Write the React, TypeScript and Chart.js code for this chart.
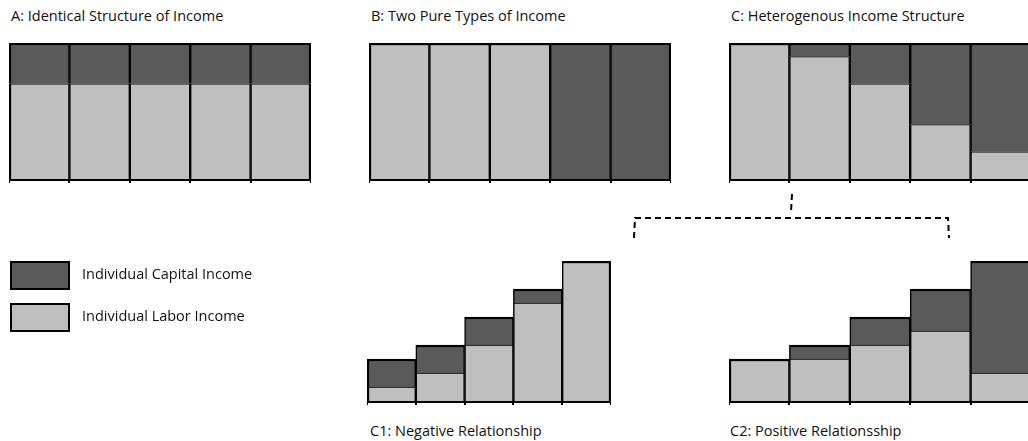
import { useEffect, useRef } from "react"
import { Chart, registerables } from "chart.js"

Chart.register(...registerables)

const people = ["1", "2", "3", "4", "5"]

const laborA = [7, 7, 7, 7, 7]
const capitalA = [3, 3, 3, 3, 3]
const laborB = [10, 10, 10, 0, 0]
const capitalB = [0, 0, 0, 10, 10]
const laborC = [10, 9, 7, 4, 2]
const capitalC = [0, 1, 3, 6, 8]
const laborC1 = [1, 2, 4, 7, 10]
const capitalC1 = [2, 2, 2, 1, 0]
const laborC2 = [3, 3, 4, 5, 2]
const capitalC2 = [0, 1, 2, 3, 8]

const DARK = "#5a5a5a"
const LIGHT = "#bfbfbf"
const FONT = "'Open Sans', sans-serif"

interface PanelProps {
  labor: number[]
  capital: number[]
  left: number
  top: number
  width: number
  height: number
}

function Panel({ labor, capital, left, top, width, height }: PanelProps) {
  const canvasRef = useRef<HTMLCanvasElement>(null)
  const chartRef = useRef<Chart | null>(null)

  useEffect(() => {
    if (!canvasRef.current) return
    if (chartRef.current) chartRef.current.destroy()
    const last = labor.length - 1

    chartRef.current = new Chart(canvasRef.current, {
      type: "bar",
      data: {
        labels: people,
        datasets: [
          {
            label: "Individual Labor Income",
            data: labor,
            backgroundColor: LIGHT,
            borderColor: "#000",
            borderSkipped: false,
            borderWidth: (ctx: any) => ({
              left: ctx.dataIndex === 0 ? 2.5 : 1.5,
              right: ctx.dataIndex === last ? 2.5 : 1.5,
              top: capital[ctx.dataIndex] === 0 ? 2.5 : 1,
              bottom: 0,
            }),
          },
          {
            label: "Individual Capital Income",
            data: capital,
            backgroundColor: DARK,
            borderColor: "#000",
            borderSkipped: false,
            borderWidth: (ctx: any) => ({
              left: ctx.dataIndex === 0 ? 2.5 : 1.5,
              right: ctx.dataIndex === last ? 2.5 : 1.5,
              top: 2.5,
              bottom: 0,
            }),
          },
        ] as any,
      },
      options: {
        animation: false,
        responsive: false,
        maintainAspectRatio: false,
        layout: { padding: { left: 0, right: 0, top: 1, bottom: 0 } },
        datasets: { bar: { barPercentage: 1, categoryPercentage: 1 } },
        plugins: { legend: { display: false }, tooltip: { enabled: false } },
        scales: {
          x: {
            stacked: true,
            ticks: { display: false },
            grid: { offset: true, drawOnChartArea: false, tickLength: 4, color: "#000", lineWidth: 2 },
            border: { color: "#000", width: 3 },
          },
          y: {
            stacked: true,
            display: false,
            min: 0,
            max: 10,
          },
        },
      },
    })

    return () => {
      if (chartRef.current) chartRef.current.destroy()
    }
  }, [labor, capital])

  return (
    <canvas
      ref={canvasRef}
      width={width}
      height={height}
      style={{ position: "absolute", left, top, width, height }}
    />
  )
}

const label = (text: string, left: number, top: number) => (
  <div style={{ position: "absolute", left, top, fontFamily: FONT, fontSize: 14.5, color: "#111", whiteSpace: "nowrap" }}>
    {text}
  </div>
)

export default function App() {
  useEffect(() => {
    document.body.style.margin = "0"
    document.body.style.overflow = "hidden"
  }, [])

  return (
    <div style={{ position: "relative", width: 1028, height: 441, overflow: "hidden", background: "#fff" }}>
      {label("A: Identical Structure of Income", 11, 6)}
      {label("B: Two Pure Types of Income", 371, 6)}
      {label("C: Heterogenous Income Structure", 731, 6)}
      {label("C1: Negative Relationship", 370, 421)}
      {label("C2: Positive Relationsship", 730, 421)}

      <Panel labor={laborA} capital={capitalA} left={9} top={42} width={302} height={141} />
      <Panel labor={laborB} capital={capitalB} left={369} top={42} width={302} height={141} />
      <Panel labor={laborC} capital={capitalC} left={729} top={42} width={302} height={141} />
      <Panel labor={laborC1} capital={capitalC1} left={367} top={260} width={244} height={145} />
      <Panel labor={laborC2} capital={capitalC2} left={729} top={260} width={302} height={145} />

      <svg width={1028} height={441} style={{ position: "absolute", left: 0, top: 0, pointerEvents: "none" }}>
        <path
          d="M792 194 L791 212 M634 238 L635 218 L792 218 L948 218 L949 238"
          fill="none"
          stroke="#000"
          strokeWidth={2}
          strokeDasharray="6 4"
        />
      </svg>

      <div style={{ position: "absolute", left: 10, top: 261, width: 56, height: 25, background: DARK, border: "2px solid #000" }} />
      <div style={{ position: "absolute", left: 10, top: 303, width: 56, height: 25, background: LIGHT, border: "2px solid #000" }} />
      {label("Individual Capital Income", 82, 264)}
      {label("Individual Labor Income", 82, 306)}
    </div>
  )
}
